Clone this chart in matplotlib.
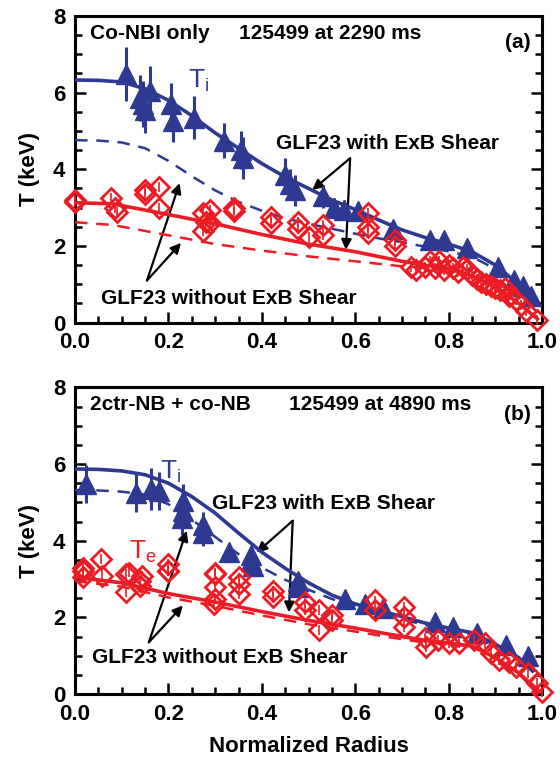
import numpy as np
import matplotlib.pyplot as plt
from matplotlib.ticker import MultipleLocator

# colours
BLUE = '#2e3a92'
RED = '#ec1c24'

plt.rcParams['font.family'] = ['Liberation Sans', 'DejaVu Sans']
plt.rcParams['font.weight'] = 'bold'
plt.rcParams['axes.labelweight'] = 'bold'

# ---------------- (a) Co-NBI only ----------------
a_ti_x = [0.11, 0.14, 0.145, 0.15, 0.16, 0.205, 0.21, 0.255, 0.32, 0.355, 0.36,
          0.45, 0.46, 0.47, 0.53, 0.555, 0.575, 0.605, 0.68, 0.76, 0.79, 0.84,
          0.905, 0.94, 0.96, 0.977]
a_ti_y = [6.48, 5.85, 5.7, 5.55, 6.05, 5.7, 5.25, 5.35, 4.75, 4.5, 4.3,
          3.85, 3.62, 3.45, 3.3, 3.0, 2.95, 2.9, 2.45, 2.15, 2.15, 1.95,
          1.45, 1.1, 0.95, 0.7]
a_ti_err = [0.7, 0.6, 0.6, 0.6, 0.65, 0.55, 0.55, 0.55, 0.45, 0.5, 0.55,
            0.45, 0.4, 0.4, 0.3, 0.25, 0.25, 0.25, 0.2, 0.15, 0.15, 0.15,
            0.12, 0.1, 0.1, 0.1]

a_te_x = [0.0, 0.0, 0.077, 0.085, 0.09, 0.15, 0.15, 0.18, 0.18, 0.274, 0.274,
          0.28, 0.29, 0.29, 0.34, 0.34, 0.42, 0.42, 0.477, 0.477, 0.50, 0.531,
          0.531, 0.627, 0.627, 0.627, 0.685, 0.685,
          0.72, 0.73, 0.75, 0.76, 0.77, 0.78, 0.79, 0.80, 0.81, 0.82, 0.83,
          0.84, 0.85, 0.86, 0.87, 0.88, 0.89, 0.90, 0.91, 0.92, 0.93, 0.945,
          0.955, 0.965, 0.99]
a_te_y = [3.2, 3.15, 3.24, 3.0, 2.88, 3.46, 3.35, 3.55, 3.0, 2.85, 2.4,
          2.62, 2.93, 2.6, 2.99, 2.9, 2.76, 2.59, 2.63, 2.45, 2.24, 2.55,
          2.29, 2.85, 2.5, 2.33, 2.16, 2.0,
          1.45, 1.38, 1.45, 1.6, 1.42, 1.62, 1.38, 1.5, 1.42, 1.32, 1.45,
          1.4, 1.25, 1.15, 1.05, 1.0, 0.95, 0.9, 0.85, 0.9, 0.7, 0.6,
          0.45, 0.3, 0.08]

a_x_ti_line = [0, 0.05, 0.1, 0.15, 0.2, 0.25, 0.3, 0.35, 0.4, 0.45, 0.5, 0.55,
               0.6, 0.65, 0.7, 0.75, 0.8, 0.85, 0.9, 0.95, 0.98]
a_ti_shear = [6.33, 6.32, 6.28, 6.1, 5.8, 5.4, 4.95, 4.55, 4.15, 3.8, 3.5, 3.2,
              2.95, 2.68, 2.42, 2.22, 2.05, 1.85, 1.5, 1.0, 0.6]
a_ti_noshear = [4.76, 4.75, 4.7, 4.55, 4.22, 3.82, 3.45, 3.15, 2.92, 2.72, 2.58,
                2.45, 2.32, 2.2, 2.1, 1.98, 1.86, 1.72, 1.4, 0.95, 0.6]

a_x_te_line = [0, 0.08, 0.2, 0.3, 0.4, 0.5, 0.6, 0.7, 0.75, 0.8, 0.85, 0.9,
               0.95, 0.99]
a_te_shear = [3.13, 3.1, 2.82, 2.58, 2.3, 2.05, 1.85, 1.6, 1.5, 1.4, 1.22,
              0.95, 0.5, 0.1]
a_te_noshear = [2.62, 2.55, 2.28, 2.05, 1.88, 1.73, 1.6, 1.47, 1.44, 1.4, 1.22,
                0.95, 0.5, 0.1]

# ---------------- (b) 2ctr-NB + co-NB ----------------
b_ti_x = [0.024, 0.131, 0.162, 0.18, 0.231, 0.231, 0.228, 0.274, 0.274, 0.33,
          0.377, 0.377, 0.38, 0.477, 0.477, 0.578, 0.62, 0.66, 0.77, 0.81, 0.86,
          0.923, 0.97]
b_ti_y = [5.48, 5.25, 5.35, 5.3, 5.04, 4.78, 4.6, 4.4, 4.2, 3.7,
          3.62, 3.47, 3.35, 2.96, 2.79, 2.49, 2.36, 2.25, 1.87, 1.74, 1.6,
          1.27, 1.0]
b_ti_err = [0.5, 0.5, 0.55, 0.5, 0.45, 0.45, 0.45, 0.35, 0.35, 0.25,
            0.25, 0.25, 0.25, 0.2, 0.2, 0.15, 0.15, 0.12, 0.12, 0.12, 0.1,
            0.1, 0.1]

b_te_x = [0.016, 0.016, 0.016, 0.055, 0.058, 0.11, 0.116, 0.11, 0.14, 0.143,
          0.14, 0.2, 0.2, 0.2, 0.30, 0.30, 0.30, 0.30, 0.298, 0.35, 0.35,
          0.35, 0.423, 0.423, 0.493, 0.493, 0.523, 0.523, 0.55, 0.55, 0.643,
          0.643, 0.704, 0.704, 0.704,
          0.75, 0.752, 0.777, 0.80, 0.822, 0.854, 0.877, 0.89, 0.907, 0.93,
          0.945, 0.97, 0.99, 1.0]
b_te_y = [3.3, 3.22, 3.05, 3.53, 3.09, 3.14, 3.17, 2.65, 2.96, 3.09,
          2.83, 3.4, 3.22, 3.2, 3.17, 3.14, 2.79, 2.48, 2.36, 3.04, 2.88,
          2.62, 2.7, 2.53, 2.39, 2.18, 2.18, 1.66, 2.05, 1.92, 2.44,
          2.18, 2.27, 2.01, 1.75,
          1.45, 1.23, 1.4, 1.32, 1.32, 1.4, 1.32, 1.06, 0.88, 0.84,
          0.71, 0.55, 0.28, 0.06]

b_x_ti_line = a_x_ti_line
b_ti_shear = [5.87, 5.86, 5.82, 5.72, 5.5, 5.15, 4.72, 4.2, 3.7, 3.28, 2.9,
              2.58, 2.35, 2.18, 2.02, 1.85, 1.72, 1.6, 1.3, 0.95, 0.6]
b_ti_noshear = [5.32, 5.31, 5.28, 5.2, 4.95, 4.55, 4.1, 3.65, 3.3, 2.98, 2.72,
                2.48, 2.28, 2.1, 1.95, 1.8, 1.68, 1.56, 1.27, 0.92, 0.58]

b_x_te_line = [0, 0.1, 0.2, 0.3, 0.4, 0.5, 0.6, 0.7, 0.75, 0.8, 0.85, 0.9,
               0.95, 0.99]
b_te_shear = [3.05, 2.9, 2.62, 2.4, 2.15, 1.92, 1.72, 1.5, 1.4, 1.33, 1.25,
              0.95, 0.55, 0.12]
b_te_noshear = [2.95, 2.8, 2.52, 2.3, 2.05, 1.82, 1.63, 1.43, 1.34, 1.3, 1.24,
                0.95, 0.55, 0.12]

x_ticks = [0.0, 0.2, 0.4, 0.6, 0.8, 1.0]
y_ticks = [0, 2, 4, 6, 8]

TXT = 15
DASH = (0, (5, 3.5))


def draw_panel(ax, ti, te, lines, header, shot, tag):
    ti_x, ti_y, ti_err = ti
    te_x, te_y = te
    x_ti, ti_s, ti_n, x_te, te_s, te_n = lines

    ax.errorbar(ti_x, ti_y, yerr=ti_err, fmt='^', color=BLUE, ms=14,
                mec=BLUE, elinewidth=2.2, capsize=0, zorder=3, clip_on=False)
    ax.plot(x_ti, ti_s, color=BLUE, lw=2.6, zorder=4)
    ax.plot(x_ti, ti_n, color=BLUE, lw=1.8, ls=DASH, zorder=4)

    ax.errorbar(te_x, te_y, yerr=0.13, fmt='D', ms=10, mfc='none', mec=RED,
                mew=2.0, ecolor=RED, elinewidth=1.2, capsize=0, zorder=5,
                clip_on=False)
    ax.plot(x_te, te_s, color=RED, lw=2.6, zorder=4)
    ax.plot(x_te, te_n, color=RED, lw=1.8, ls=DASH, zorder=4)

    ax.set_xlim(0, 1)
    ax.set_ylim(0, 8)
    ax.set_xticks(x_ticks)
    ax.set_yticks(y_ticks)
    ax.xaxis.set_minor_locator(MultipleLocator(0.05))
    ax.yaxis.set_minor_locator(MultipleLocator(0.5))
    ax.set_xticklabels(['%.1f' % v for v in x_ticks], fontweight='bold')
    ax.set_yticklabels([str(v) for v in y_ticks], fontweight='bold')
    ax.tick_params(which='both', direction='in', left=True, right=True,
                   top=False, width=1.8, labelsize=16, pad=7)
    ax.tick_params(which='major', length=8)
    ax.tick_params(which='minor', length=5)
    for s in ax.spines.values():
        s.set_linewidth(2.2)
    ax.set_ylabel('T (keV)', fontsize=16, fontweight='bold', labelpad=9)

    ax.text(0.032, 7.55, header, fontsize=TXT, va='center', ha='left',
            fontweight='bold')
    ax.text(shot[0], 7.55, shot[1], fontsize=TXT, va='center', ha='left',
            fontweight='bold')
    ax.text(0.975, 7.3, tag, fontsize=TXT, va='center', ha='right',
            fontweight='bold')


fig = plt.figure(figsize=(5.6, 7.61), dpi=100)
ax1 = fig.add_axes([0.134, 0.576, 0.834, 0.403])
ax2 = fig.add_axes([0.134, 0.088, 0.834, 0.403])

draw_panel(ax1, (a_ti_x, a_ti_y, a_ti_err), (a_te_x, a_te_y),
           (a_x_ti_line, a_ti_shear, a_ti_noshear, a_x_te_line, a_te_shear, a_te_noshear),
           'Co-NBI only', (0.35, '125499 at 2290 ms'), '(a)')
draw_panel(ax2, (b_ti_x, b_ti_y, b_ti_err), (b_te_x, b_te_y),
           (b_x_ti_line, b_ti_shear, b_ti_noshear, b_x_te_line, b_te_shear, b_te_noshear),
           '2ctr-NB + co-NB', (0.458, '125499 at 4890 ms'), '(b)')
ax2.set_xlabel('Normalized Radius', fontsize=16, fontweight='bold', labelpad=8)

arrow = dict(arrowstyle='-|>', color='black', lw=1.6, mutation_scale=15,
             shrinkA=0, shrinkB=0)

# annotations, panel (a)
ax1.text(0.265, 6.3, r'T$_\mathregular{i}$', color=BLUE, fontsize=19,
         fontweight='normal', ha='center', va='center')
ax1.text(0.668, 4.68, 'GLF23 with ExB Shear', fontsize=TXT, ha='center',
         va='center', fontweight='bold', zorder=6)
ax1.annotate('', xy=(0.508, 3.46), xytext=(0.589, 4.29), arrowprops=arrow)
ax1.annotate('', xy=(0.58, 1.9), xytext=(0.589, 4.29), arrowprops=arrow)
ax1.text(0.33, 0.64, 'GLF23 without ExB Shear', fontsize=TXT, ha='center',
         va='center', fontweight='bold', zorder=6)
ax1.annotate('', xy=(0.224, 3.64), xytext=(0.154, 1.1), arrowprops=arrow)
ax1.annotate('', xy=(0.227, 2.08), xytext=(0.154, 1.1), arrowprops=arrow)

# annotations, panel (b)
ax2.text(0.205, 5.8, r'T$_\mathregular{i}$', color=BLUE, fontsize=19,
         fontweight='normal', ha='center', va='center')
ax2.text(0.145, 3.7, r'T$_\mathregular{e}$', color=RED, fontsize=19,
         fontweight='normal', ha='center', va='center')
ax2.text(0.533, 4.96, 'GLF23 with ExB Shear', fontsize=TXT, ha='center',
         va='center', fontweight='bold', zorder=6)
ax2.annotate('', xy=(0.389, 3.69), xytext=(0.466, 4.52), arrowprops=arrow)
ax2.annotate('', xy=(0.458, 2.13), xytext=(0.466, 4.52), arrowprops=arrow)
ax2.text(0.31, 0.94, 'GLF23 without ExB Shear', fontsize=TXT, ha='center',
         va='center', fontweight='bold', zorder=6)
ax2.annotate('', xy=(0.239, 4.26), xytext=(0.158, 1.35), arrowprops=arrow)
ax2.annotate('', xy=(0.231, 2.31), xytext=(0.158, 1.35), arrowprops=arrow)

fig.savefig('out.png', dpi=100)
